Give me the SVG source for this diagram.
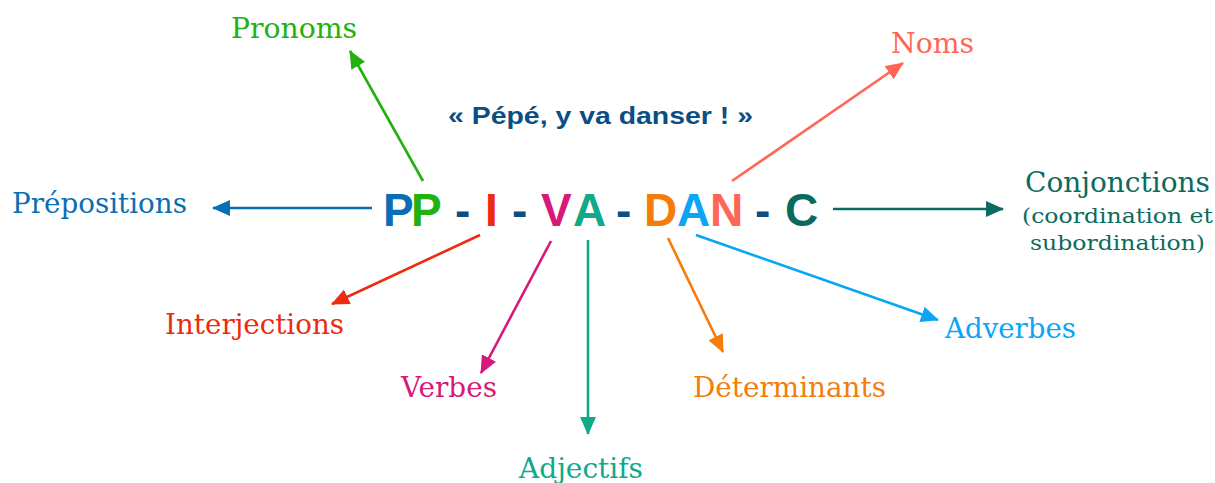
<svg xmlns="http://www.w3.org/2000/svg" width="1215" height="483" viewBox="0 0 1215 483">
<defs>
<style>
.lbl{font-family:Georgia,"DejaVu Serif",serif;font-size:28px}
.sm{font-family:Georgia,"DejaVu Serif",serif;font-size:21px}
.big{font-family:"Liberation Sans",Arial,sans-serif;font-size:46px;font-weight:bold}
.sub{font-family:"Liberation Sans",Arial,sans-serif;font-size:24px;font-weight:bold;fill:#0B4F82}
.c line{stroke-width:2.6;fill:none}
</style>
<marker id="mGreen" markerUnits="userSpaceOnUse" markerWidth="18" markerHeight="16" refX="17" refY="8" orient="auto"><path d="M0,0 L18,8 L0,16 z" fill="#22B10F"/></marker>
<marker id="mSalmon" markerUnits="userSpaceOnUse" markerWidth="18" markerHeight="16" refX="17" refY="8" orient="auto"><path d="M0,0 L18,8 L0,16 z" fill="#FF6655"/></marker>
<marker id="mBlue" markerUnits="userSpaceOnUse" markerWidth="18" markerHeight="16" refX="17" refY="8" orient="auto"><path d="M0,0 L18,8 L0,16 z" fill="#0A6EB4"/></marker>
<marker id="mDTeal" markerUnits="userSpaceOnUse" markerWidth="18" markerHeight="16" refX="17" refY="8" orient="auto"><path d="M0,0 L18,8 L0,16 z" fill="#0A6B60"/></marker>
<marker id="mRed" markerUnits="userSpaceOnUse" markerWidth="18" markerHeight="16" refX="17" refY="8" orient="auto"><path d="M0,0 L18,8 L0,16 z" fill="#EE2A11"/></marker>
<marker id="mMag" markerUnits="userSpaceOnUse" markerWidth="18" markerHeight="16" refX="17" refY="8" orient="auto"><path d="M0,0 L18,8 L0,16 z" fill="#D6197A"/></marker>
<marker id="mTeal" markerUnits="userSpaceOnUse" markerWidth="18" markerHeight="16" refX="17" refY="8" orient="auto"><path d="M0,0 L18,8 L0,16 z" fill="#10A98A"/></marker>
<marker id="mOrange" markerUnits="userSpaceOnUse" markerWidth="18" markerHeight="16" refX="17" refY="8" orient="auto"><path d="M0,0 L18,8 L0,16 z" fill="#F47C0A"/></marker>
<marker id="mLBlue" markerUnits="userSpaceOnUse" markerWidth="18" markerHeight="16" refX="17" refY="8" orient="auto"><path d="M0,0 L18,8 L0,16 z" fill="#0AA6F5"/></marker>
</defs>
<rect width="1215" height="483" fill="#ffffff"/>

<g id="title">
<text class="sub" x="448" y="124" textLength="305" lengthAdjust="spacingAndGlyphs">« Pépé, y va danser ! »</text>
</g>

<g id="acronym" class="big">
<text x="383" y="226" fill="#0A6EB4">P</text>
<text x="411" y="226" fill="#22B10F">P</text>
<text x="455" y="226" fill="#0B4F82">-</text>
<text x="485" y="226" fill="#EE2A11">I</text>
<text x="512" y="226" fill="#0B4F82">-</text>
<text x="541" y="226" fill="#D6197A">V</text>
<text x="573" y="226" fill="#10A98A">A</text>
<text x="616" y="226" fill="#0B4F82">-</text>
<text x="644" y="226" fill="#F47C0A">D</text>
<text x="677" y="226" fill="#0AA6F5">A</text>
<text x="710" y="226" fill="#FF6655">N</text>
<text x="755" y="226" fill="#0B4F82">-</text>
<text x="785" y="226" fill="#096B60">C</text>
</g>

<g id="connectors" class="c">
<line x1="423" y1="181" x2="350" y2="51" stroke="#22B10F" marker-end="url(#mGreen)"/>
<line x1="732" y1="181" x2="903" y2="63" stroke="#FF6655" marker-end="url(#mSalmon)"/>
<line x1="372" y1="208" x2="213" y2="208" stroke="#0A6EB4" marker-end="url(#mBlue)"/>
<line x1="833" y1="209" x2="1003" y2="209" stroke="#0A6B60" marker-end="url(#mDTeal)"/>
<line x1="480" y1="235" x2="332" y2="304" stroke="#EE2A11" marker-end="url(#mRed)"/>
<line x1="551" y1="241" x2="481" y2="373" stroke="#D6197A" marker-end="url(#mMag)"/>
<line x1="588" y1="240" x2="588" y2="434" stroke="#10A98A" marker-end="url(#mTeal)"/>
<line x1="668" y1="238" x2="723" y2="352" stroke="#F47C0A" marker-end="url(#mOrange)"/>
<line x1="696" y1="235" x2="938" y2="320" stroke="#0AA6F5" marker-end="url(#mLBlue)"/>
</g>

<g id="pronoms"><text class="lbl" x="231" y="38" fill="#22B10F" textLength="126" lengthAdjust="spacingAndGlyphs">Pronoms</text></g>
<g id="noms"><text class="lbl" x="891" y="53" fill="#FF6655" textLength="83" lengthAdjust="spacingAndGlyphs">Noms</text></g>
<g id="prepositions"><text class="lbl" x="12" y="213" fill="#0A6EB4" textLength="175" lengthAdjust="spacingAndGlyphs">Prépositions</text></g>
<g id="conjonctions">
<text class="lbl" x="1025" y="192" fill="#0A6B60" textLength="185" lengthAdjust="spacingAndGlyphs">Conjonctions</text>
<text class="sm" x="1022" y="223" fill="#0A6B60" textLength="191" lengthAdjust="spacingAndGlyphs">(coordination et</text>
<text class="sm" x="1030" y="250" fill="#0A6B60" textLength="175" lengthAdjust="spacingAndGlyphs">subordination)</text>
</g>
<g id="interjections"><text class="lbl" x="165" y="334" fill="#EE2A11" textLength="179" lengthAdjust="spacingAndGlyphs">Interjections</text></g>
<g id="verbes"><text class="lbl" x="401" y="397" fill="#D6197A" textLength="96" lengthAdjust="spacingAndGlyphs">Verbes</text></g>
<g id="adjectifs"><text class="lbl" x="519" y="478" fill="#10A98A" textLength="124" lengthAdjust="spacingAndGlyphs">Adjectifs</text></g>
<g id="determinants"><text class="lbl" x="693" y="397" fill="#F47C0A" textLength="193" lengthAdjust="spacingAndGlyphs">Déterminants</text></g>
<g id="adverbes"><text class="lbl" x="945" y="338" fill="#0AA6F5" textLength="131" lengthAdjust="spacingAndGlyphs">Adverbes</text></g>
</svg>
